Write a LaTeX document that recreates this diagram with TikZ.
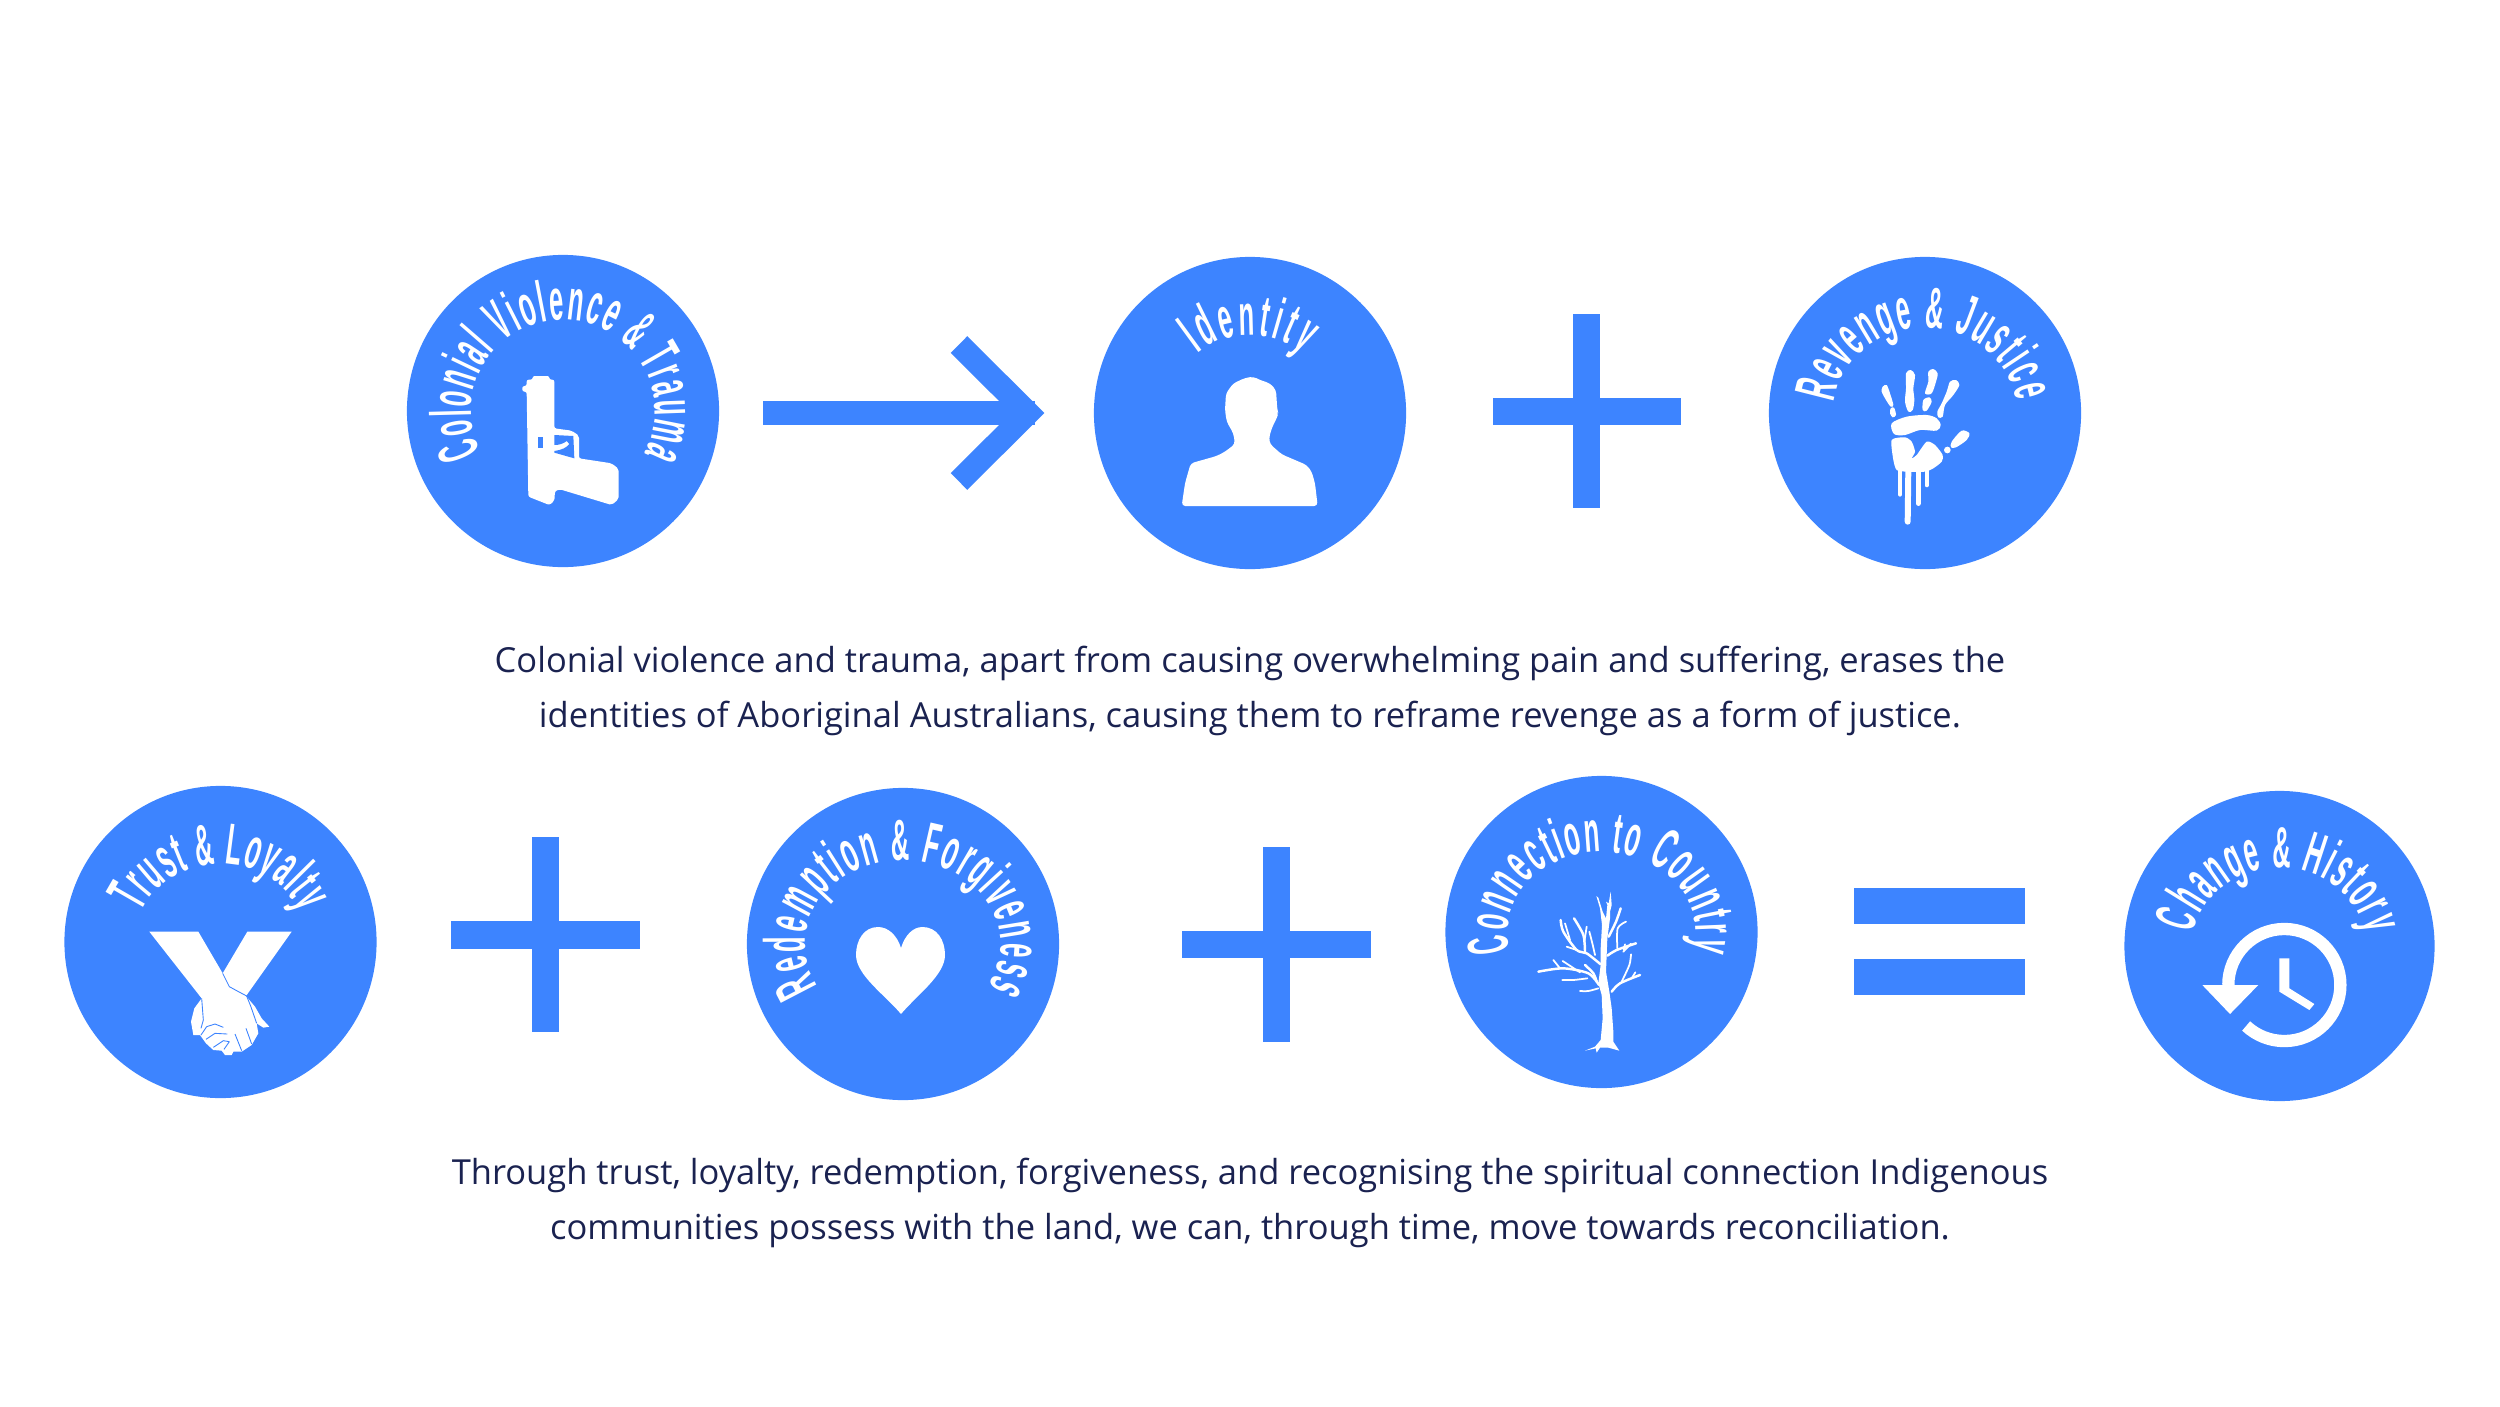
\documentclass[tikz,border=0pt]{standalone}
\usepackage{fontspec}
\usetikzlibrary{decorations.text}
\newfontfamily\captionfamily{Open Sans}
\newfontfamily\badgefamily[FakeStretch=0.44]{Liberation Sans}
\newcommand{\badgefont}{\badgefamily\bfseries\fontsize{16.5}{17}\selectfont}
\definecolor{badgeblue}{HTML}{3D84FF}
\definecolor{captionnavy}{HTML}{1A2250}
% node, start angle, end angle, x radius, y radius, text
\newcommand{\badgelabel}[6]{%
  \path[decorate, decoration={text along path, text align={fit to path},
        text={|\badgefont\color{white}|#6}}]
    (#1.center) ++(#2:#4cm and #5cm) arc[start angle=#2, end angle=#3,
        x radius=#4cm, y radius=#5cm];}

\begin{document}
\begin{tikzpicture}[x=0.01cm, y=-0.01cm,
    badge/.style={circle, fill=badgeblue, minimum size=3.12cm, inner sep=0pt},
    caption/.style={align=center, text=captionnavy, inner sep=0pt,
        font=\captionfamily\fontsize{9.81}{15.6}\selectfont},
    opbar/.style={fill=badgeblue},
    oparrow/.style={draw=badgeblue, line width=0.235cm, miter limit=10},
    icon/.style={fill=white},
    cutout/.style={fill=badgeblue},
    crease/.style={draw=badgeblue, line width=0.25pt},
    twig/.style={draw=white, line width=0.5pt, line cap=round, line join=round},
    drip/.style={draw=white, line cap=round}]
  \useasboundingbox (0,0) rectangle (2500,1406);

  % top row
  \node[badge] (colonial) at (563,411) {};
  \node[badge] (identity) at (1250,413) {};
  \node[badge] (revenge) at (1925,413) {};

  % bottom row
  \node[badge] (trust) at (220.5,942) {};
  \node[badge] (redemption) at (903,944) {};
  \node[badge] (connection) at (1601.5,932) {};
  \node[badge, minimum size=3.1cm] (change) at (2279.5,946) {};

  \badgelabel{colonial}{207}{-28}{0.92}{0.91}{Colonial Violence {\&} Trauma}
  \badgelabel{identity}{130}{50}{0.82}{0.78}{Identity}
  \badgelabel{revenge}{173}{8}{0.92}{0.85}{Revenge {\&} Justice}
  \badgelabel{trust}{158}{22}{0.86}{0.78}{Trust {\&} Loyalty}
  \badgelabel{redemption}{210}{-30}{0.98}{0.84}{Redemption {\&} Forgiveness}
  \badgelabel{connection}{194}{-13}{0.94}{0.80}{Connection to Country}
  \badgelabel{change}{171}{9}{0.87}{0.78}{Change {\&} History}

  % operators
  \coordinate (arrowtail) at (763,413);
  \coordinate (arrowend) at (1035,413);
  \coordinate (barbtop) at (959,344.5);
  \coordinate (barbtip) at (1027.7,413);
  \coordinate (barbbot) at (959,481.5);
  \draw[oparrow] (arrowtail) -- (arrowend);
  \draw[oparrow] (barbtop) -- (barbtip) -- (barbbot);

  \fill[opbar] (1573,314) rectangle (1600,508);
  \fill[opbar] (1492.5,398) rectangle (1681,425);
  \fill[opbar] (531.5,837) rectangle (559,1032);
  \fill[opbar] (451,921) rectangle (640,949);
  \fill[opbar] (1263,847) rectangle (1290,1042);
  \fill[opbar] (1182,931) rectangle (1371,958);
  \fill[opbar] (1854,888) rectangle (2024.5,924);
  \fill[opbar] (1854,959) rectangle (2024.5,995);

  % gun
  \begin{scope}[shift={(510,365)}, scale=1/3]
    \fill[icon, rounded corners=0.6pt] (68,33) -- (118,33) -- (118,44) -- (133,44)
      -- (133,190) -- (185,197) -- (207,212) -- (207,280) -- (305,295) -- (326,312)
      -- (326,402) -- (305,420) -- (150,373) -- (135,378) -- (133,408) -- (118,420)
      -- (55,395) -- (50,80) -- (37,80) -- (37,63) -- (50,63) -- (50,44) -- (68,44)
      -- cycle;
    \fill[cutout] (133,210) -- (190,213) -- (193,280) -- (133,263) -- (133,258)
      .. controls (155,255) and (170,248) .. (178,237) -- (170,228)
      .. controls (160,236) and (148,240) .. (133,240) -- cycle;
    \fill[cutout] (85,215) rectangle (100,248);
  \end{scope}

  % person
  \begin{scope}[shift={(1170,370)}, scale=1/3]
    \fill[icon, rounded corners=1pt] (35,408) -- (45,340) -- (62,280) -- (140,258)
      -- (165,245) -- (195,222) -- (190,190) -- (170,155) -- (165,120) -- (168,70)
      -- (190,40) -- (225,24) -- (250,20) -- (270,30) -- (300,40) -- (318,60)
      -- (322,120) -- (325,130) -- (320,145) -- (305,175) -- (297,205) -- (300,222)
      -- (335,253) -- (410,285) -- (425,305) -- (435,340) -- (443,408) -- cycle;
  \end{scope}

  % handprint
  \begin{scope}[shift={(1870,360)}, scale=1/3]
    \fill[icon] plot[smooth cycle] coordinates {(38,80) (50,75) (60,100) (70,135) (62,140) (48,120) (35,95)};
    \fill[icon] plot[smooth cycle] coordinates {(62,145) (72,143) (78,165) (68,172) (60,160)};
    \fill[icon] plot[smooth cycle] coordinates {(108,40) (122,30) (135,45) (130,85) (133,120) (128,150) (115,155) (105,125) (108,85)};
    \fill[icon] plot[smooth cycle] coordinates {(175,35) (190,27) (203,40) (198,65) (185,100) (165,100) (175,65)};
    \fill[icon] plot[smooth cycle] coordinates {(160,120) (178,112) (185,125) (170,152) (158,150)};
    \fill[icon] plot[smooth cycle] coordinates {(240,65) (258,60) (268,75) (250,105) (225,135) (218,170) (205,172) (202,155) (215,130) (230,95)};
    \fill[icon] plot[smooth cycle] coordinates {(65,190) (110,170) (170,165) (200,175) (212,195) (200,212) (150,210) (105,225) (72,222)};
    \fill[icon] plot[smooth cycle, tension=0.4] coordinates {(65,240) (105,232) (125,245) (135,275) (125,295) (140,285) (170,245) (195,255) (218,285) (215,305) (190,325) (165,335) (110,335) (80,330) (70,300)};
    \fill[icon] plot[smooth cycle] coordinates {(245,245) (275,212) (298,220) (290,240) (258,262) (243,262)};
    \fill[icon] (232,270) circle[radius=0.1cm];
    \draw[drip, line width=1.3pt] (90,330) -- (90,403);
    \draw[drip, line width=1.7pt] (115,325) -- (113,485);
    \draw[drip, line width=1.5pt] (145,335) -- (145,430);
    \draw[drip, line width=1.1pt] (170,330) -- (170,376);
  \end{scope}

  % joined hands
  \begin{scope}[shift={(140,920)}, scale=1/3]
    \fill[icon] (28,35) -- (175,35) -- (248,160) -- (322,35) -- (455,35) -- (345,190)
      -- (318,228) -- (345,260) -- (365,295) -- (388,320) -- (370,323) -- (350,310)
      -- (355,340) -- (335,375) -- (305,395) -- (280,395) -- (275,405) -- (255,405)
      -- (245,392) -- (220,390) -- (198,370) -- (180,345) -- (160,345) -- (153,305)
      -- (163,265) -- (185,235) -- cycle;
    \draw[crease] (248,160) -- (268,200) -- (290,212) -- (320,228) -- (332,258) -- (350,310);
    \draw[crease] (185,235) -- (190,300) -- (183,325);
    \draw[crease] (183,345) -- (200,320) -- (225,312) -- (250,322);
    \draw[crease] (198,358) -- (225,340) -- (262,342);
    \draw[crease] (220,382) -- (250,362) -- (268,365);
    \draw[crease] (252,388) -- (268,365);
    \draw[crease] (285,342) -- (305,392);
    \draw[crease] (318,325) -- (335,372);
  \end{scope}

  % heart
  \fill[icon] (901,948) .. controls (897,935) and (888,927) .. (878,927)
    .. controls (864,927) and (856,940) .. (856,955)
    .. controls (856,975) and (885,995) .. (901,1014)
    .. controls (917,995) and (945,975) .. (945,955)
    .. controls (945,940) and (937,927) .. (922.5,927)
    .. controls (913,927) and (905,935) .. (901,948) -- cycle;

  % tree
  \begin{scope}[shift={(1530,885)}, scale=1/3]
    \fill[icon] (165,497) -- (195,485) -- (212,465) -- (218,400) -- (215,330)
      -- (205,295) -- (212,240) -- (212,190) -- (216,120) -- (210,70) -- (199,33)
      -- (205,38) -- (218,80) -- (228,100) -- (232,60) -- (228,50) -- (236,55)
      -- (242,20) -- (245,60) -- (240,80) -- (240,100) -- (232,160) -- (230,210)
      -- (228,260) -- (238,320) -- (245,370) -- (250,440) -- (250,470) -- (268,497)
      -- (235,488) -- (210,488) -- (200,503) -- (197,490) -- cycle;
    \draw[twig, line width=0.7pt] plot[smooth] coordinates {(236,155) (258,110) (272,70)};
    \draw[twig, line width=0.7pt] plot[smooth] coordinates {(232,212) (260,195) (318,175)};
    \draw[twig] plot[smooth] coordinates {(262,190) (263,130) (288,110)};
    \draw[twig] plot[smooth] coordinates {(285,178) (281,195)};
    \draw[twig] plot[smooth] coordinates {(280,200) (303,176)};
    \draw[twig, line width=0.7pt] plot[smooth] coordinates {(245,320) (270,295) (330,270)};
    \draw[twig] plot[smooth] coordinates {(275,290) (298,240) (303,208)};
    \draw[twig] plot[smooth] coordinates {(305,280) (316,262)};
    \draw[twig, line width=0.7pt] plot[smooth] coordinates {(212,238) (170,205) (140,195) (100,140) (92,105)};
    \draw[twig] plot[smooth] coordinates {(120,165) (105,115)};
    \draw[twig, line width=0.7pt] plot[smooth] coordinates {(165,200) (160,150) (132,100)};
    \draw[twig] plot[smooth] coordinates {(163,170) (170,125)};
    \draw[twig] plot[smooth] coordinates {(195,210) (187,175) (178,140)};
    \draw[twig] plot[smooth] coordinates {(140,195) (110,185)};
    \draw[twig, line width=0.7pt] plot[smooth] coordinates {(207,300) (175,265) (100,250) (25,260)};
    \draw[twig] plot[smooth] coordinates {(90,250) (70,225)};
    \draw[twig] plot[smooth] coordinates {(150,262) (98,228)};
    \draw[twig] plot[smooth] coordinates {(172,280) (130,285) (97,285)};
    \draw[twig] plot[smooth] coordinates {(205,310) (175,318) (150,318)};
    \draw[twig, line width=0.7pt] plot[smooth] coordinates {(200,290) (190,265) (165,240)};
  \end{scope}

  % clock
  \coordinate (clockrim) at (2228.3,985);
  \draw[draw=white, line width=0.123cm] (clockrim) arc[start angle=180, end angle=-133, radius=0.56cm];
  \fill[icon] (2202.3,985) -- (2258.3,985) -- (2230,1014) -- cycle;
  \begin{scope}[shift={(2190,910)}, scale=1/3]
    \fill[icon] (268,145) -- (298,145) -- (298,235) -- (373,282) -- (358,300) -- (268,245) -- cycle;
  \end{scope}

  % captions
  \node[caption, anchor=base] (topcaption) at (1250,727)
    {Colonial violence and trauma, apart from causing overwhelming pain and suffering, erases the\\
     identities of Aboriginal Australians, causing them to reframe revenge as a form of justice.};
  \node[caption, anchor=base] (bottomcaption) at (1250,1239)
    {Through trust, loyalty, redemption, forgiveness, and recognising the spiritual connection Indigenous\\
     communities possess with the land, we can, through time, move towards reconciliation.};
\end{tikzpicture}
\end{document}
